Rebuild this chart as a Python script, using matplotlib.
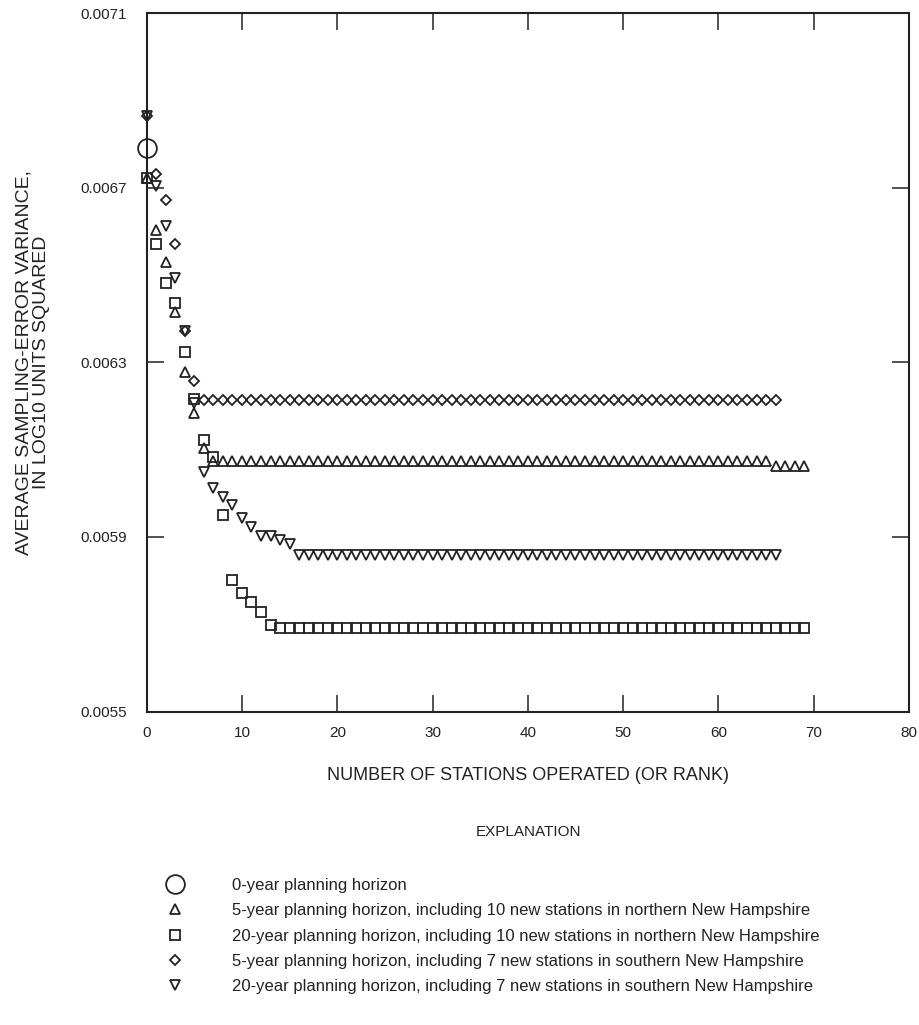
import matplotlib.pyplot as plt

plt.rcParams['font.family'] = ['Liberation Sans', 'DejaVu Sans']

# values (station rank -> average sampling-error variance)
circle_x = [0]
circle_y = [0.00679]

# 5-year horizon, 10 new northern stations
up_x = list(range(0, 70))
up_y = ([0.006722, 0.006603, 0.006530, 0.006416, 0.006278, 0.006184, 0.006104]
        + [0.006075] * 59
        + [0.006063] * 4)

# 20-year horizon, 10 new northern stations
sq_x = list(range(0, 70))
sq_y = ([0.006722, 0.006571, 0.006482, 0.006436, 0.006324, 0.006216, 0.006123,
         0.006084, 0.005951, 0.005802, 0.005772, 0.005750, 0.005729, 0.005699]
        + [0.005692] * 56)

# 5-year horizon, 7 new southern stations
dia_x = list(range(0, 67))
dia_y = ([0.006864, 0.006731, 0.006672, 0.006571, 0.006372, 0.006258]
         + [0.006214] * 61)

# 20-year horizon, 7 new southern stations
dn_x = list(range(0, 67))
dn_y = ([0.006864, 0.006704, 0.006612, 0.006493, 0.006372, 0.006207, 0.006049,
         0.006013, 0.005992, 0.005974, 0.005944, 0.005923, 0.005903, 0.005903,
         0.005894, 0.005885]
        + [0.005859] * 51)

labels = [
    "0-year planning horizon",
    "5-year planning horizon, including 10 new stations in northern New Hampshire",
    "20-year planning horizon, including 10 new stations in northern New Hampshire",
    "5-year planning horizon, including 7 new stations in southern New Hampshire",
    "20-year planning horizon, including 7 new stations in southern New Hampshire",
]

xticks = [0, 10, 20, 30, 40, 50, 60, 70, 80]
yticks = [0.0055, 0.0059, 0.0063, 0.0067, 0.0071]

ink = '#222222'

fig = plt.figure(figsize=(9.19, 10.25), dpi=100)
ax = fig.add_axes([0.1596, 0.3057, 0.8295, 0.6816])

mk = dict(linestyle='none', markerfacecolor='none', markeredgecolor=ink,
          markeredgewidth=1.3, clip_on=False)
h0, = ax.plot(circle_x, circle_y, marker='o', markersize=13.5, **mk)
h1, = ax.plot(up_x, up_y, marker='^', markersize=7, **mk)
h2, = ax.plot(sq_x, sq_y, marker='s', markersize=7, **mk)
h3, = ax.plot(dia_x, dia_y, marker='D', markersize=5, **mk)
h4, = ax.plot(dn_x, dn_y, marker='v', markersize=7, **mk)

ax.set_xlim(0, 80)
ax.set_ylim(0.0055, 0.0071)
ax.set_xticks(xticks)
ax.set_yticks(yticks)
ax.set_yticklabels([f"{v:.4f}" for v in yticks])
ax.tick_params(direction='in', length=12, width=1.1, color=ink,
               top=True, right=True, labelsize=11, labelcolor=ink)
ax.tick_params(axis='y', pad=14)
ax.tick_params(axis='x', pad=10)
for s in ax.spines.values():
    s.set_linewidth(1.5)
    s.set_color(ink)

ax.set_xlabel("NUMBER OF STATIONS OPERATED (OR RANK)", fontsize=13,
              color=ink, labelpad=20)
ax.set_ylabel("AVERAGE SAMPLING-ERROR VARIANCE,\nIN LOG10 UNITS SQUARED",
              fontsize=14, color=ink, labelpad=22, linespacing=1.05)

fig.text(0.5746, 1 - 832 / 1025, "EXPLANATION", fontsize=11, color=ink,
         ha='center', va='center')

fig.legend([h0, h1, h2, h3, h4], labels, loc='upper left',
           bbox_to_anchor=(0.1723, 1 - 878 / 1025), frameon=False,
           fontsize=12, handlelength=2, handletextpad=2.42, borderpad=0,
           borderaxespad=0, labelspacing=0.62, labelcolor=ink)

fig.savefig("out.png", dpi=100)
